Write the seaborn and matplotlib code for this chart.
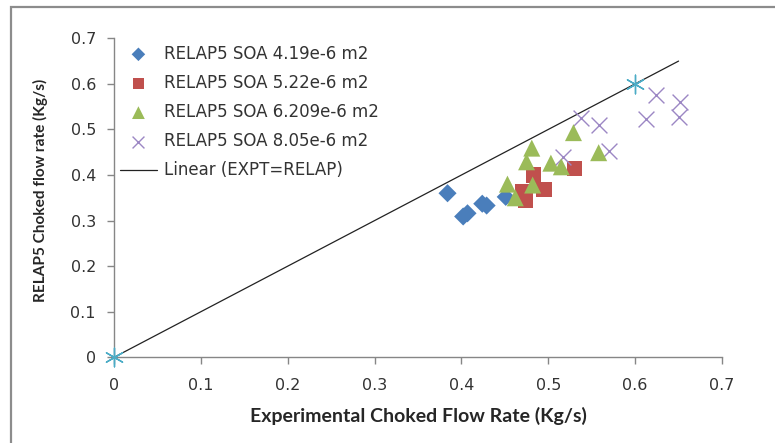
import matplotlib
matplotlib.use("Agg")
import matplotlib.pyplot as plt
import seaborn as sns
import pandas as pd
from matplotlib.patches import Rectangle

soa_419_x = [0.384, 0.402, 0.407, 0.424, 0.429, 0.451]
soa_419_y = [0.360, 0.309, 0.316, 0.337, 0.333, 0.352]

soa_522_x = [0.471, 0.474, 0.483, 0.495, 0.530]
soa_522_y = [0.363, 0.345, 0.400, 0.369, 0.415]

soa_6209_x = [0.453, 0.462, 0.475, 0.481, 0.482, 0.503, 0.515, 0.529, 0.558]
soa_6209_y = [0.380, 0.350, 0.429, 0.459, 0.378, 0.426, 0.418, 0.493, 0.449]

soa_805_x = [0.517, 0.538, 0.558, 0.570, 0.612, 0.624, 0.650, 0.652]
soa_805_y = [0.439, 0.526, 0.510, 0.453, 0.523, 0.576, 0.528, 0.560]

ref_x = [0.0, 0.6]
ref_y = [0.0, 0.6]

line_x = [0.0, 0.65]
line_y = [0.0, 0.65]

ticks = [0, 0.1, 0.2, 0.3, 0.4, 0.5, 0.6, 0.7]
tick_labels = ["0", "0.1", "0.2", "0.3", "0.4", "0.5", "0.6", "0.7"]

sns.set_style("white")
plt.rcParams['font.family'] = ['DejaVu Sans']

fig = plt.figure(figsize=(7.75, 4.43), dpi=100)
ax = fig.add_axes([114 / 775, 1 - 357.3 / 443, 608 / 775, 319 / 443])

# outer chart border (only top/left visible in the crop)
fig.patches.append(Rectangle((11 / 775, -0.1), 1.2, 1 - 7 / 443 + 0.1,
                             transform=fig.transFigure, fill=False,
                             edgecolor='#8c8c8c', linewidth=1.6))

sns.lineplot(x=line_x, y=line_y, ax=ax, color='#222222', linewidth=0.9,
             label='Linear (EXPT=RELAP)', zorder=1)

sns.scatterplot(x=soa_419_x, y=soa_419_y, ax=ax, marker='D', s=85,
                color='#4A7EBB', edgecolor='none', label='RELAP5 SOA 4.19e-6 m2', zorder=3)
sns.scatterplot(x=soa_522_x, y=soa_522_y, ax=ax, marker='s', s=120,
                color='#C0504D', edgecolor='none', label='RELAP5 SOA 5.22e-6 m2', zorder=3)
sns.scatterplot(x=soa_6209_x, y=soa_6209_y, ax=ax, marker='^', s=150,
                color='#9BBB59', edgecolor='none', label='RELAP5 SOA 6.209e-6 m2', zorder=4)
sns.scatterplot(x=soa_805_x, y=soa_805_y, ax=ax, marker='x', s=130,
                color='#9C87C4', linewidth=1.0, label='RELAP5 SOA 8.05e-6 m2', zorder=3)
sns.scatterplot(x=ref_x, y=ref_y, ax=ax, marker=(6, 2, 0), s=180,
                color='#4BACC6', linewidth=1.0, zorder=5, clip_on=False)

ax.set_xlim(0, 0.7)
ax.set_ylim(0, 0.7)
ax.set_xticks(ticks)
ax.set_xticklabels(tick_labels)
ax.set_yticks(ticks)
ax.set_yticklabels(tick_labels)
ax.tick_params(axis='both', direction='out', length=5, width=1, color='#868686',
               labelsize=11.5, labelcolor='#333333', pad=8, bottom=True, left=True)
ax.tick_params(axis='x', pad=10)

for side in ['top', 'right']:
    ax.spines[side].set_visible(False)
for side in ['left', 'bottom']:
    ax.spines[side].set_color('#868686')
    ax.spines[side].set_linewidth(1.0)

ax.set_xlabel('Experimental Choked Flow Rate (Kg/s)', fontsize=14, fontweight='bold',
              family='Lato', labelpad=10)
ax.set_ylabel('RELAP5 Choked flow rate (Kg/s)', fontsize=11.1, fontweight='bold',
              family='Lato')
ax.yaxis.set_label_coords(-0.108, 0.524)

handles, labels = ax.get_legend_handles_labels()
order = [1, 2, 3, 4, 0]
ax.legend([handles[i] for i in order], [labels[i] for i in order],
          loc='upper left', bbox_to_anchor=(0.01, 0.98), frameon=False,
          fontsize=12, labelspacing=0.67, handlelength=2.2, handletextpad=0.45,
          borderaxespad=0, borderpad=0, markerscale=0.75, labelcolor='#333333')

fig.savefig('out.png', dpi=100)
